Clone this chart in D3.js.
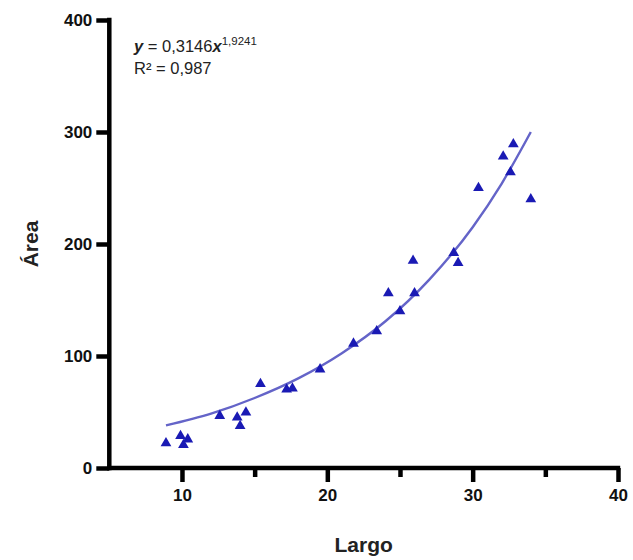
<!DOCTYPE html>
<html><head><meta charset="utf-8">
<script src="https://cdn.jsdelivr.net/npm/d3@7"></script>
<style>body{margin:0;background:#fff}svg{display:block}text{font-family:"Liberation Sans",Arial,sans-serif}</style>
</head><body><svg id="c" width="633" height="560"></svg>
<script>
const largo = [8.9,9.9,10.1,10.4,12.6,13.8,14.0,14.4,15.4,17.2,17.6,19.5,21.8,23.4,24.2,25.0,25.9,26.0,28.7,29.0,30.4,32.1,32.6,32.8,34.0];
const area  = [23,29.5,21.5,26.5,47.5,46,38.5,50.5,76,71,72,89,112,123,157,141,186,157,193,184,251,279,265,290,241];
const fitX = [8.9,12,15,18,21,24,27,30,32,34];
const fitY = [38,48.5,62.5,80,102.5,131,168,215,254,300];
const xTicks = [10,20,30,40];
const xMinor = [15,25,35];
const yTicks = [0,100,200,300,400];

const svg = d3.select("#c");
const x = d3.scaleLinear().domain([5,40]).range([109.3,618]);
const y = d3.scaleLinear().domain([0,400]).range([468,20]);

// fit curve
const line = d3.line().x(d=>x(d[0])).y(d=>y(d[1])).curve(d3.curveMonotoneX);
svg.append("path").datum(fitX.map((v,i)=>[v,fitY[i]]))
  .attr("d",line).attr("fill","none").attr("stroke","#6464c8").attr("stroke-width",2.4);

// points
const tri = d3.symbol().type(d3.symbolTriangle).size(50);
svg.append("g").selectAll("path").data(largo.map((v,i)=>[v,area[i]])).join("path")
  .attr("d",tri).attr("transform",d=>`translate(${x(d[0])},${y(d[1])+1})`)
  .attr("fill","#1a1ab4");

// axes
const xAxis = svg.append("g").attr("transform","translate(0,468)")
  .call(d3.axisBottom(x).tickValues(xTicks).tickSize(14).tickPadding(7).tickSizeOuter(0));
const xMin = svg.append("g").attr("transform","translate(0,468)")
  .call(d3.axisBottom(x).tickValues(xMinor).tickSize(9).tickFormat("").tickSizeOuter(0));
xMin.select(".domain").remove();
const yAxis = svg.append("g").attr("transform","translate(109.3,0)")
  .call(d3.axisLeft(y).tickValues(yTicks).tickSize(13).tickPadding(4).tickSizeOuter(0));
[xAxis,xMin,yAxis].forEach(g=>{
  g.selectAll("path,line").style("stroke","#000").style("stroke-width","4.5px");
  g.selectAll(".tick text").attr("font-size",17).attr("font-weight","bold").attr("fill","#111");
});
yAxis.selectAll(".tick text").attr("dy","0.34em");
xAxis.select(".domain").attr("d","M107,0H620.2");
yAxis.select(".domain").attr("d","M0,17.8V470.2");

// axis titles
svg.append("text").attr("x",x(22.5)).attr("y",552).attr("text-anchor","middle")
  .attr("font-size",21).attr("font-weight","bold").attr("fill","#222").text("Largo");
svg.append("text").attr("transform",`translate(38,${y(200)}) rotate(-90)`).attr("text-anchor","middle")
  .attr("font-size",21).attr("font-weight","bold").attr("fill","#222").text("Área");

// equation
const eq = svg.append("text").attr("x",134).attr("y",52).attr("font-size",16.5).attr("fill","#222");
eq.append("tspan").attr("font-weight","bold").attr("font-style","italic").text("y");
eq.append("tspan").text(" = 0,3146");
eq.append("tspan").attr("font-weight","bold").attr("font-style","italic").text("x");
eq.append("tspan").attr("font-size",11.5).attr("dy",-7).text("1,9241");
svg.append("text").attr("x",134).attr("y",74).attr("font-size",16.5).attr("fill","#222").text("R² = 0,987");
</script></body></html>
